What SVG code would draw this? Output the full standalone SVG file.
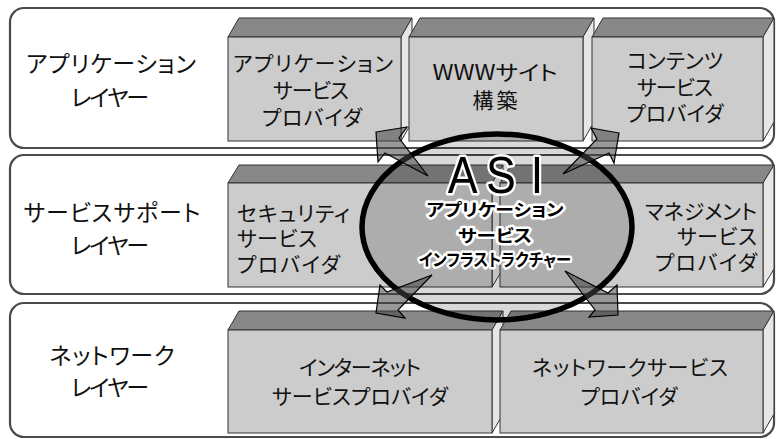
<svg xmlns="http://www.w3.org/2000/svg" width="776" height="439" viewBox="0 0 776 439">
<style>
.frame{fill:#fff;stroke:#4a4a4a;stroke-width:2.2}
.front{fill:#cccccc;stroke:#333;stroke-width:1}
.top{fill:#888888;stroke:#333;stroke-width:1}
.side{fill:#e6e6e6;stroke:#333;stroke-width:1}
.t{font-family:"Noto Sans CJK JP","Noto Sans",sans-serif;fill:#111;font-feature-settings:"palt"}
.lab{font-size:23px;text-anchor:middle}
.bx{font-size:21px;text-anchor:middle}
.bl{font-size:21px}
.br{font-size:21px;text-anchor:end}
.arrow{fill:#444;fill-opacity:0.55;stroke:#000;stroke-width:1.2;stroke-linejoin:miter}
.halo{stroke:#fff;stroke-width:5;paint-order:stroke;stroke-linejoin:round;fill:#000}
</style>
<rect width="776" height="439" fill="#fff"/>
<g id="layers">
  <g id="layer-app">
    <rect class="frame" x="10" y="8" width="764" height="140" rx="14"/>
    <text class="t lab" x="111" y="72" textLength="170" lengthAdjust="spacing">アプリケーション</text>
    <text class="t lab" x="110" y="106" textLength="78" lengthAdjust="spacing">レイヤー</text>
  </g>
  <g id="layer-support">
    <rect class="frame" x="10" y="155" width="764" height="139" rx="14"/>
    <text class="t lab" x="112" y="221" textLength="177" lengthAdjust="spacing">サービスサポート</text>
    <text class="t lab" x="110" y="254" textLength="78" lengthAdjust="spacing">レイヤー</text>
  </g>
  <g id="layer-network">
    <rect class="frame" x="10" y="303" width="764" height="134" rx="14"/>
    <text class="t lab" x="112" y="364" textLength="125" lengthAdjust="spacing">ネットワーク</text>
    <text class="t lab" x="110" y="396" textLength="78" lengthAdjust="spacing">レイヤー</text>
  </g>
</g>
<g id="asp">
  <polygon class="top" points="228,37 239,18 412,18 401,37"/>
  <polygon class="side" points="401,37 412,18 412,122 401,141"/>
  <rect class="front" x="228" y="37" width="173" height="104"/>
  <text class="t bx" x="313" y="71" textLength="160" lengthAdjust="spacing">アプリケーション</text>
  <text class="t bx" x="311" y="98" textLength="76" lengthAdjust="spacing">サービス</text>
  <text class="t bx" x="312" y="125" textLength="100" lengthAdjust="spacing">プロバイダ</text>
</g>
<g id="www">
  <polygon class="top" points="409,37 420,18 594,18 583,37"/>
  <polygon class="side" points="583,37 594,18 594,122 583,141"/>
  <rect class="front" x="409" y="37" width="174" height="104"/>
  <text class="t bx" x="495" y="80" textLength="125" lengthAdjust="spacingAndGlyphs">WWWサイト</text>
  <text class="t bx" x="495" y="108" textLength="45" lengthAdjust="spacing">構築</text>
</g>
<g id="csp">
  <polygon class="top" points="592,37 603,18 774,18 763,37"/>
  <polygon class="side" points="763,37 774,18 774,122 763,141"/>
  <rect class="front" x="592" y="37" width="171" height="104"/>
  <text class="t bx" x="675" y="68" textLength="96" lengthAdjust="spacing">コンテンツ</text>
  <text class="t bx" x="675" y="95" textLength="76" lengthAdjust="spacing">サービス</text>
  <text class="t bx" x="675" y="121" textLength="97" lengthAdjust="spacing">プロバイダ</text>
</g>
<g id="security">
  <polygon class="top" points="228,183 239,165 503,165 492,183"/>
  <polygon class="side" points="492,183 503,165 503,269 492,287"/>
  <rect class="front" x="228" y="183" width="264" height="104"/>
  <text class="t bl" x="237" y="221" textLength="113" lengthAdjust="spacing">セキュリティ</text>
  <text class="t bl" x="237" y="246" textLength="80" lengthAdjust="spacing">サービス</text>
  <text class="t bl" x="237" y="272" textLength="103" lengthAdjust="spacing">プロバイダ</text>
</g>
<g id="management">
  <polygon class="top" points="500,183 511,165 774,165 763,183"/>
  <polygon class="side" points="763,183 774,165 774,269 763,287"/>
  <rect class="front" x="500" y="183" width="263" height="104"/>
  <text class="t br" x="757" y="219" textLength="112" lengthAdjust="spacing">マネジメント</text>
  <text class="t br" x="757" y="244" textLength="80" lengthAdjust="spacing">サービス</text>
  <text class="t br" x="757" y="270" textLength="102" lengthAdjust="spacing">プロバイダ</text>
</g>
<g id="isp">
  <polygon class="top" points="228,330 239,311 503,311 492,330"/>
  <polygon class="side" points="492,330 503,311 503,414 492,433"/>
  <rect class="front" x="228" y="330" width="264" height="103"/>
  <text class="t bx" x="360" y="375" textLength="122" lengthAdjust="spacing">インターネット</text>
  <text class="t bx" x="360" y="404" textLength="176" lengthAdjust="spacing">サービスプロバイダ</text>
</g>
<g id="nsp">
  <polygon class="top" points="500,330 511,311 774,311 763,330"/>
  <polygon class="side" points="763,330 774,311 774,414 763,433"/>
  <rect class="front" x="500" y="330" width="263" height="103"/>
  <text class="t bx" x="630" y="375" textLength="196" lengthAdjust="spacing">ネットワークサービス</text>
  <text class="t bx" x="629" y="404" textLength="97" lengthAdjust="spacing">プロバイダ</text>
</g>
<g id="asi-shape">
  <ellipse cx="497" cy="227" rx="135" ry="93" fill="#000" fill-opacity="0.15" stroke="#000" stroke-width="5.5"/>
</g>
<g id="connectors">
  <polygon class="arrow" points="376,132 407,127 399,138 428,176 385,153 378,162"/>
  <polygon class="arrow" points="619,133 591,128 597,139 563,174 609,153 614,163"/>
  <polygon class="arrow" points="376,313 380,285 387,292 432,275 398,310 405,318"/>
  <polygon class="arrow" points="618,315 617,285 608,293 565,271 595,310 589,317"/>
</g>
<g id="asi">
  <text class="halo" font-family="Liberation Sans, Arial, sans-serif" font-size="52" text-anchor="middle" x="457 501.5 543.6" y="193" transform="translate(497,0) scale(0.86,1) translate(-497,0)">ASI</text>
  <text class="t halo" font-weight="bold" font-size="17" text-anchor="middle" x="495" y="216" textLength="137" lengthAdjust="spacingAndGlyphs">アプリケーション</text>
  <text class="t halo" font-weight="bold" font-size="17" text-anchor="middle" x="495" y="242" textLength="74" lengthAdjust="spacingAndGlyphs">サービス</text>
  <text class="t halo" font-weight="bold" font-size="17" text-anchor="middle" x="495" y="266" textLength="152" lengthAdjust="spacingAndGlyphs">インフラストラクチャー</text>
</g>
</svg>
